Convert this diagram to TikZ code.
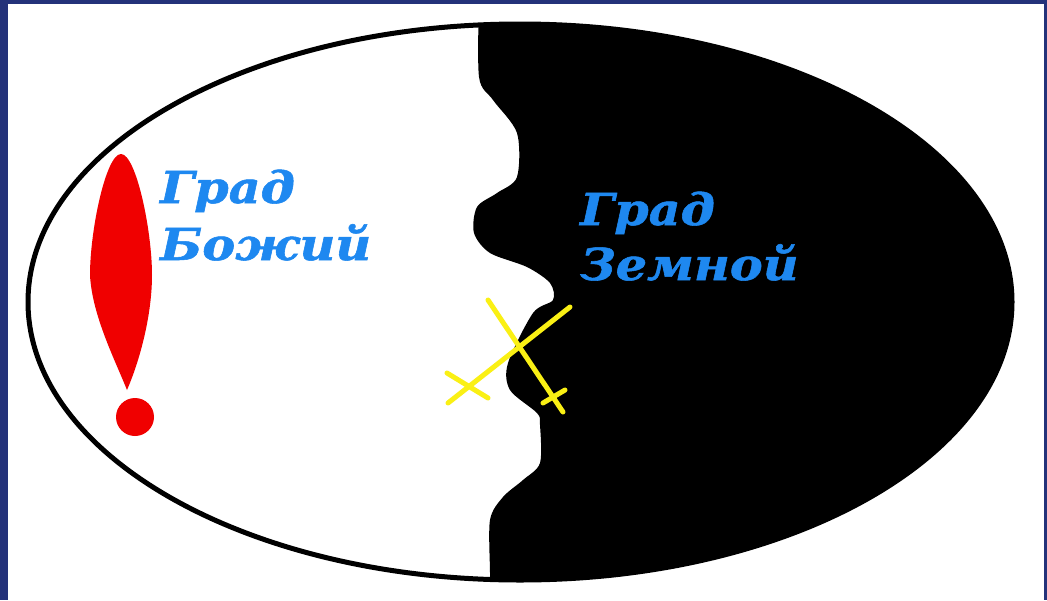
\documentclass[tikz,border=0pt]{standalone}
\usepackage{fontspec}
\newfontfamily\cityfont{DejaVu Serif}
\usepackage{tikz}
\usetikzlibrary{calc}
\definecolor{slidenavy}{RGB}{36,50,122}
\definecolor{cityblue}{RGB}{30,136,240}
\definecolor{crossyellow}{RGB}{250,240,20}
\definecolor{markred}{RGB}{240,0,0}
\tikzset{
  citylabel/.style={
    anchor=base west, inner sep=0pt, text=cityblue, xscale=1.12,
    font=\cityfont\bfseries\itshape\addfontfeature{FakeBold=1.2}\fontsize{44}{44}\selectfont
  },
  crossline/.style={
    draw=crossyellow, line width=5pt, line cap=round
  },
  rimline/.style={
    draw=black, line width=5pt
  },
}

\begin{document}
\begin{tikzpicture}[x=1pt, y=-1pt]
  \useasboundingbox (0,0) rectangle (1047,600);

  % Slide background and white card
  \fill[slidenavy] (0,0) rectangle (1047,600);
  \fill[white] (8,4) rectangle (1044,600);

  % Dark half of the world
  \begin{scope}
    \clip (520,302) ellipse [x radius=492pt, y radius=278pt];
    \fill[black] plot[smooth, tension=0.5] coordinates {
      (479,0) (479,77) (493,100) (517,133) (517,177) (497,193)
      (477,207) (474,233) (490,253) (527,267) (550,283) (553,300)
      (533,313) (508,363) (510,390) (537,413) (540,425) (540,463)
      (523,480) (503,497) (490,520) (490,573) (490,600)}
      -- (1047,600) -- (1047,0) -- cycle;
  \end{scope}
  \path[rimline] (520,302) ellipse [x radius=492pt, y radius=278pt];

  % Exclamation mark
  \fill[markred] (121,154)
    .. controls (106,154) and (90,230) .. (90,275)
    .. controls (92,315) and (115,360) .. (127,390)
    .. controls (140,360) and (152,315) .. (152,275)
    .. controls (152,230) and (136,154) .. (121,154) -- cycle;
  \fill[markred] (135,417) circle [radius=19pt];

  % Crossed swords
  \coordinate (swordAtop) at (488,300);
  \coordinate (swordAend) at (563,412);
  \coordinate (swordBtop) at (570,307);
  \coordinate (swordBend) at (448,403);
  \draw[crossline] (swordAtop) -- (swordAend);
  \draw[crossline] (543,403) -- (565,390);
  \draw[crossline] (swordBtop) -- (swordBend);
  \draw[crossline] (447,373) -- (488,398);

  % Labels
  \node[citylabel] (godTop) at (160,203) {Град};
  \node[citylabel] (godBottom) at (160,260) {Божий};
  \node[citylabel] (earthTop) at (580,225) {Град};
  \node[citylabel] (earthBottom) at (580,280) {Земной};
\end{tikzpicture}
\end{document}
